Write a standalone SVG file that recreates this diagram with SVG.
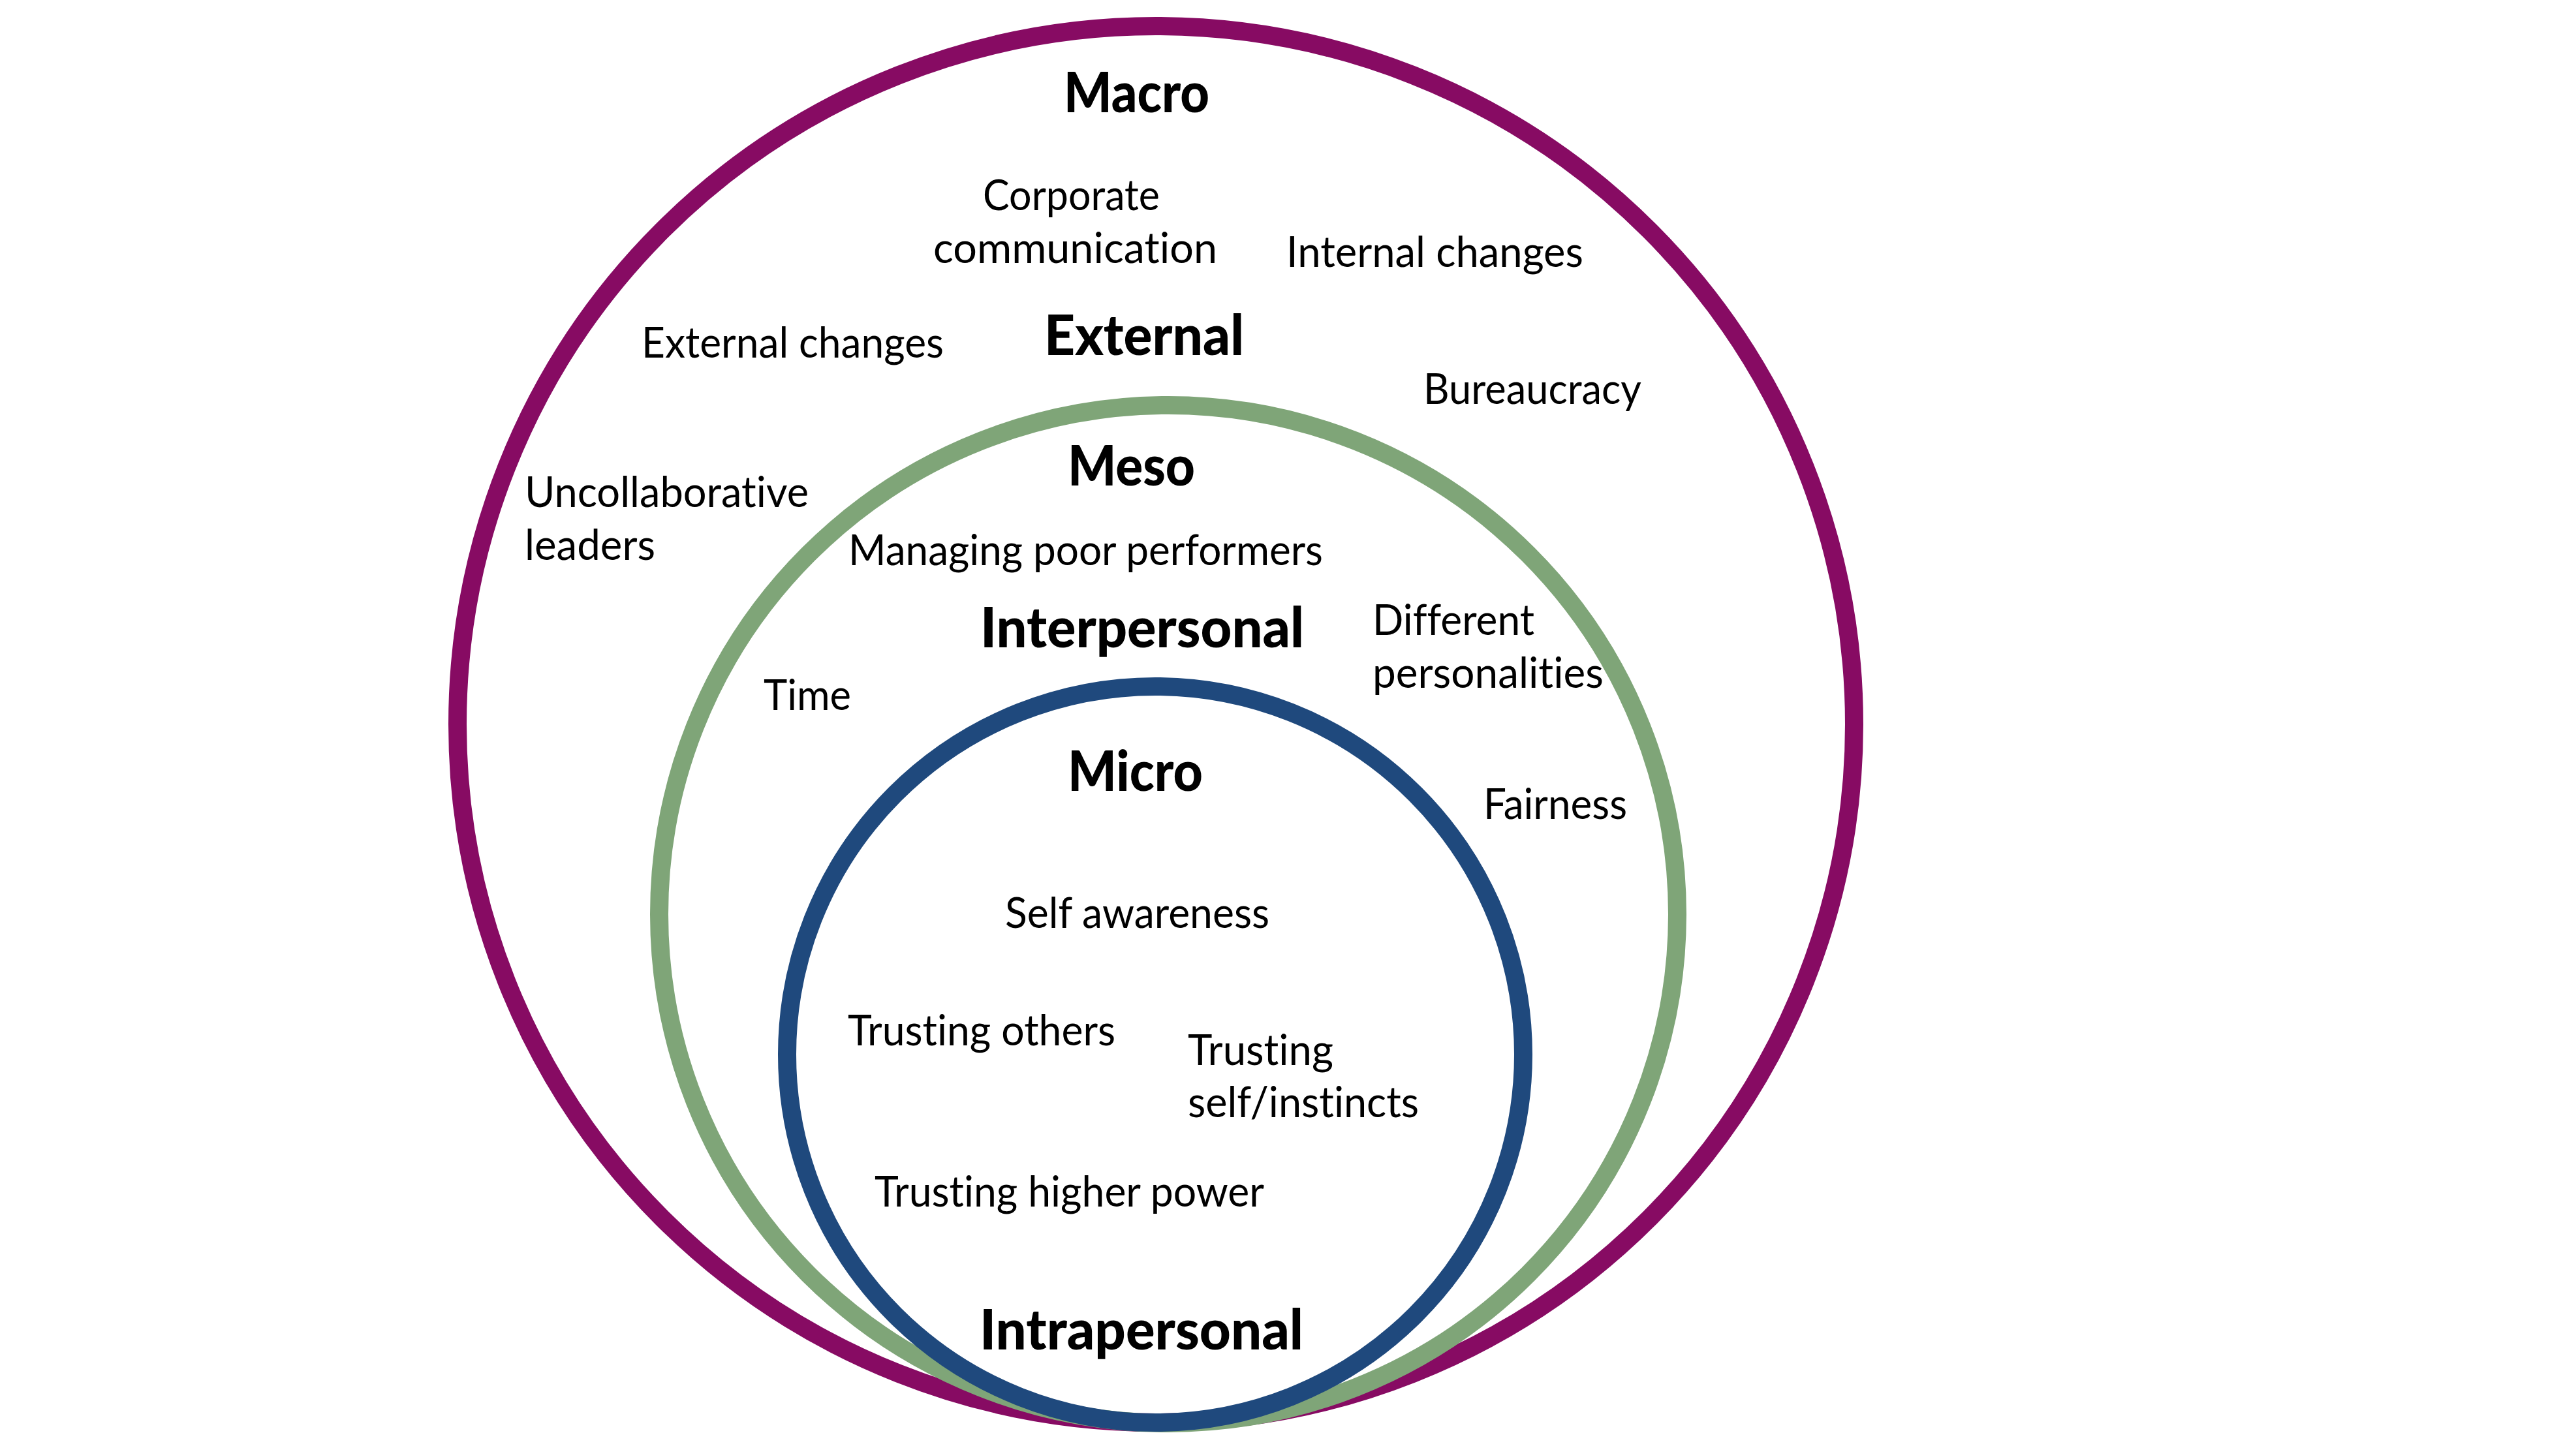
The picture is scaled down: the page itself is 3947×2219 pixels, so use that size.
<svg xmlns="http://www.w3.org/2000/svg" width="3947" height="2219" viewBox="0 0 3947 2219">
<style>
.ring{fill:none;stroke-width:28}
.t{font-family:Lato,"Open Sans","Liberation Sans",sans-serif;font-size:66px;fill:#000;font-variant-ligatures:none}
.h{font-family:Lato,"Open Sans","Liberation Sans",sans-serif;font-size:86px;font-weight:900;fill:#000;font-variant-ligatures:none}
</style>
<rect width="3947" height="2219" fill="#fff"/>
<g id="macro-ring"><circle class="ring" cx="1771" cy="1110" r="1070" stroke="#870B63"/></g>
<g id="meso-ring"><circle class="ring" cx="1790" cy="1401" r="780" stroke="#7FA578"/></g>
<g id="micro-ring"><circle class="ring" cx="1770" cy="1616" r="564" stroke="#1F497D"/></g>
<g id="macro-labels">
<text class="h" x="1630" y="172" textLength="223" lengthAdjust="spacingAndGlyphs">Macro</text>
<text class="t" x="1506" y="322" textLength="271" lengthAdjust="spacingAndGlyphs">Corporate</text>
<text class="t" x="1430" y="403" textLength="435" lengthAdjust="spacingAndGlyphs">communication</text>
<text class="t" x="1971" y="409" textLength="455" lengthAdjust="spacingAndGlyphs">Internal changes</text>
<text class="t" x="983" y="548" textLength="463" lengthAdjust="spacingAndGlyphs">External changes</text>
<text class="h" x="1600" y="544" textLength="306" lengthAdjust="spacingAndGlyphs">External</text>
<text class="t" x="2181" y="619" textLength="334" lengthAdjust="spacingAndGlyphs">Bureaucracy</text>
<text class="t" x="804" y="777" textLength="435" lengthAdjust="spacingAndGlyphs">Uncollaborative</text>
<text class="t" x="804" y="858" textLength="200" lengthAdjust="spacingAndGlyphs">leaders</text>
</g>
<g id="meso-labels">
<text class="h" x="1636" y="744" textLength="195" lengthAdjust="spacingAndGlyphs">Meso</text>
<text class="t" x="1300" y="866" textLength="727" lengthAdjust="spacingAndGlyphs">Managing poor performers</text>
<text class="h" x="1502" y="992" textLength="496" lengthAdjust="spacingAndGlyphs">Interpersonal</text>
<text class="t" x="2103" y="973" textLength="248" lengthAdjust="spacingAndGlyphs">Different</text>
<text class="t" x="2103" y="1054" textLength="354" lengthAdjust="spacingAndGlyphs">personalities</text>
<text class="t" x="1170" y="1088" textLength="134" lengthAdjust="spacingAndGlyphs">Time</text>
<text class="t" x="2273" y="1255" textLength="220" lengthAdjust="spacingAndGlyphs">Fairness</text>
</g>
<g id="micro-labels">
<text class="h" x="1636" y="1212" textLength="207" lengthAdjust="spacingAndGlyphs">Micro</text>
<text class="t" x="1540" y="1422" textLength="405" lengthAdjust="spacingAndGlyphs">Self awareness</text>
<text class="t" x="1299" y="1602" textLength="410" lengthAdjust="spacingAndGlyphs">Trusting others</text>
<text class="t" x="1820" y="1632" textLength="223" lengthAdjust="spacingAndGlyphs">Trusting</text>
<text class="t" x="1820" y="1712" textLength="354" lengthAdjust="spacingAndGlyphs">self/instincts</text>
<text class="t" x="1340" y="1849" textLength="597" lengthAdjust="spacingAndGlyphs">Trusting higher power</text>
<text class="h" x="1501" y="2068" textLength="496" lengthAdjust="spacingAndGlyphs">Intrapersonal</text>
</g>
</svg>
